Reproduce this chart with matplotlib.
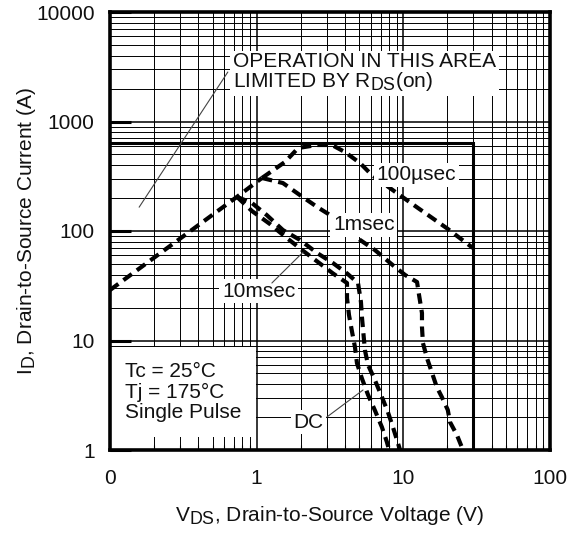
import matplotlib
matplotlib.use('Agg')
import matplotlib.pyplot as plt
try:
    import matplotlib._mathtext as _mt
    _mt.SHRINK_FACTOR = 0.85
except Exception:
    pass

plt.rcParams['font.family'] = ['Liberation Sans', 'DejaVu Sans']
plt.rcParams['mathtext.fontset'] = 'custom'
plt.rcParams['mathtext.rm'] = 'Liberation Sans'
plt.rcParams['mathtext.it'] = 'Liberation Sans:italic'
plt.rcParams['mathtext.bf'] = 'Liberation Sans:bold'

# ---------------- data ----------------
x_ticks = [0.1, 1, 10, 100]
x_tick_labels = ['0', '1', '10', '100']
y_ticks = [1, 10, 100, 1000, 10000]
y_tick_labels = ['1', '10', '100', '1000', '10000']

# R_DS(on) limited rising line (shared by all curves)
rds_v = [0.1, 0.734, 1.087]
rds_i = [28.9, 205, 305]

# 100 usec
us100_v = [1.087, 1.56, 1.92, 2.58, 3.26, 4.0, 5.06, 6.11, 9.04, 12.6, 19.8, 29.8]
us100_i = [305, 427, 573, 610, 610, 526, 418, 324, 222, 162, 106, 70]

# 1 msec
ms1_v = [1.087, 1.51, 1.97, 2.58, 3.16, 5.06, 6.4, 8.77, 10.3, 12.4, 12.8, 13.4,
         13.4, 13.6, 14.5, 15.7, 16.9, 18.3, 20.1, 20.8, 23.2, 25.5]
ms1_i = [305, 274, 213, 166, 140, 83, 67, 46.9, 39.6, 34.2, 26, 17.8,
         13.3, 9.5, 6.9, 5.05, 3.76, 3.05, 2.32, 1.8, 1.37, 1.0]

# 10 msec
ms10_v = [0.734, 0.929, 1.17, 1.51, 1.97, 2.58, 3.31, 4.13, 4.91, 5.14, 5.22,
          5.47, 5.74, 6.4, 7.14, 7.85, 8.49, 9.18, 9.5]
ms10_i = [205, 180, 140, 102, 83, 63, 51, 41, 33.5, 22.5, 16.4,
          8.2, 6.0, 4.35, 3.05, 2.22, 1.62, 1.16, 1.0]

# DC
dc_v = [0.734, 0.93, 1.23, 1.56, 2.04, 2.62, 3.31, 4.13, 4.13, 4.26, 4.47,
        4.68, 4.83, 5.22, 5.74, 6.4, 7.14, 7.73, 8.0]
dc_i = [205, 152, 116, 89, 67, 52, 41, 33.5, 24.4, 17.1, 12.0,
        8.7, 6.2, 4.5, 3.2, 2.3, 1.62, 1.18, 1.0]

# package / voltage limit box
soa_v = [0.1, 30, 30]
soa_i = [640, 640, 1]

# ---------------- figure ----------------
W, H = 581, 538
fig = plt.figure(figsize=(W / 100, H / 100), dpi=100)
fig.patch.set_facecolor('white')
ax = fig.add_axes([110 / W, 1 - 450 / H, 440 / W, 438 / H])
ax.set_xscale('log')
ax.set_yscale('log')
ax.set_xlim(0.1, 100)
ax.set_ylim(1, 10000)

# grid (drawn manually below text boxes)
for v in ax.xaxis.get_minorticklocs():
    if 0.1 < v < 100:
        ax.axvline(v, color='black', lw=0.7, zorder=1)
for v in ax.xaxis.get_majorticklocs():
    if 0.1 < v < 100:
        ax.axvline(v, color='black', lw=1.1, zorder=1)
for v in ax.yaxis.get_minorticklocs():
    if 1 < v < 10000:
        ax.axhline(v, color='black', lw=0.7, zorder=1)
for v in ax.yaxis.get_majorticklocs():
    if 1 < v < 10000:
        ax.axhline(v, color='black', lw=1.1, zorder=1)

ls = (0, (2.5, 1.5))
lw = 3.0
for xv, yv in [(rds_v, rds_i), (us100_v, us100_i), (ms1_v, ms1_i),
               (ms10_v, ms10_i), (dc_v, dc_i)]:
    ax.plot(xv, yv, color='black', lw=lw, linestyle=ls, zorder=2,
            solid_capstyle='butt', dash_capstyle='butt')

ax.plot(soa_v, soa_i, color='black', lw=2.2, zorder=2.2, solid_joinstyle='miter')

tc = '#111111'
box = dict(boxstyle='square,pad=0.12', fc='white', ec='none')
fs = 15

ax.text(0.689, 4300, 'OPERATION IN THIS AREA\nLIMITED BY R$_\\mathregular{DS}$(on)',
        fontsize=fs, color=tc, ha='left', va='top', linespacing=0.95,
        bbox=dict(boxstyle='square,pad=0.15', fc='white', ec='none'), zorder=3)
ax.text(6.6, 292, '100\u00b5sec', fontsize=fs, color=tc, ha='left', va='baseline',
        bbox=box, zorder=3)
ax.text(3.31, 102, '1msec', fontsize=fs, color=tc, ha='left', va='baseline',
        bbox=box, zorder=3)
ax.text(0.58, 25, '10msec', fontsize=fs, color=tc, ha='left', va='baseline',
        bbox=box, zorder=3)
ax.text(1.77, 1.59, 'DC', fontsize=fs, color=tc, ha='left', va='baseline',
        bbox=box, zorder=3)
ax.text(0.1265, 6.4, 'Tc = 25\u00b0C\nTj = 175\u00b0C\nSingle Pulse', fontsize=fs,
        color=tc, ha='left', va='top', linespacing=1.12,
        bbox=dict(boxstyle='square,pad=0.7', fc='white', ec='none'), zorder=3)

lead = dict(arrowstyle='-', color='#444444', lw=0.8, shrinkA=0, shrinkB=0)
ax.annotate('', xy=(0.158, 165), xytext=(0.636, 2830), arrowprops=lead, zorder=3.5)
ax.annotate('', xy=(2.07, 64), xytext=(1.27, 33.5), arrowprops=lead, zorder=3.5)
ax.annotate('', xy=(5.31, 3.53), xytext=(3.01, 2.0), arrowprops=lead, zorder=3.5)

# axes styling
for s in ax.spines.values():
    s.set_linewidth(2.6)
    s.set_color('black')
    s.set_zorder(6)
ax.xaxis.set_zorder(5)
ax.yaxis.set_zorder(5)

ax.set_xticks(x_ticks)
ax.set_xticklabels(x_tick_labels)
ax.set_yticks(y_ticks)
ax.set_yticklabels(y_tick_labels)
ax.tick_params(axis='x', which='major', direction='in', length=0, pad=14,
               labelsize=fs, labelcolor=tc)
ax.tick_params(axis='x', which='minor', direction='in', length=3.5, width=0.8,
               color='black')
ax.tick_params(axis='y', which='major', direction='in', length=15, width=2.2,
               pad=11, labelsize=fs, labelcolor=tc)
ax.tick_params(axis='y', which='minor', length=0)

ax.set_xlabel('V$_\\mathregular{DS}$, Drain-to-Source Voltage (V)', fontsize=fs, color=tc)
ax.xaxis.set_label_coords(0.5, -0.123)
ax.set_ylabel('I$_\\mathregular{D}$, Drain-to-Source Current (A)', fontsize=fs, color=tc)
ax.yaxis.set_label_coords(-0.164, 0.5)

fig.savefig('out.png', dpi=100, facecolor='white')
